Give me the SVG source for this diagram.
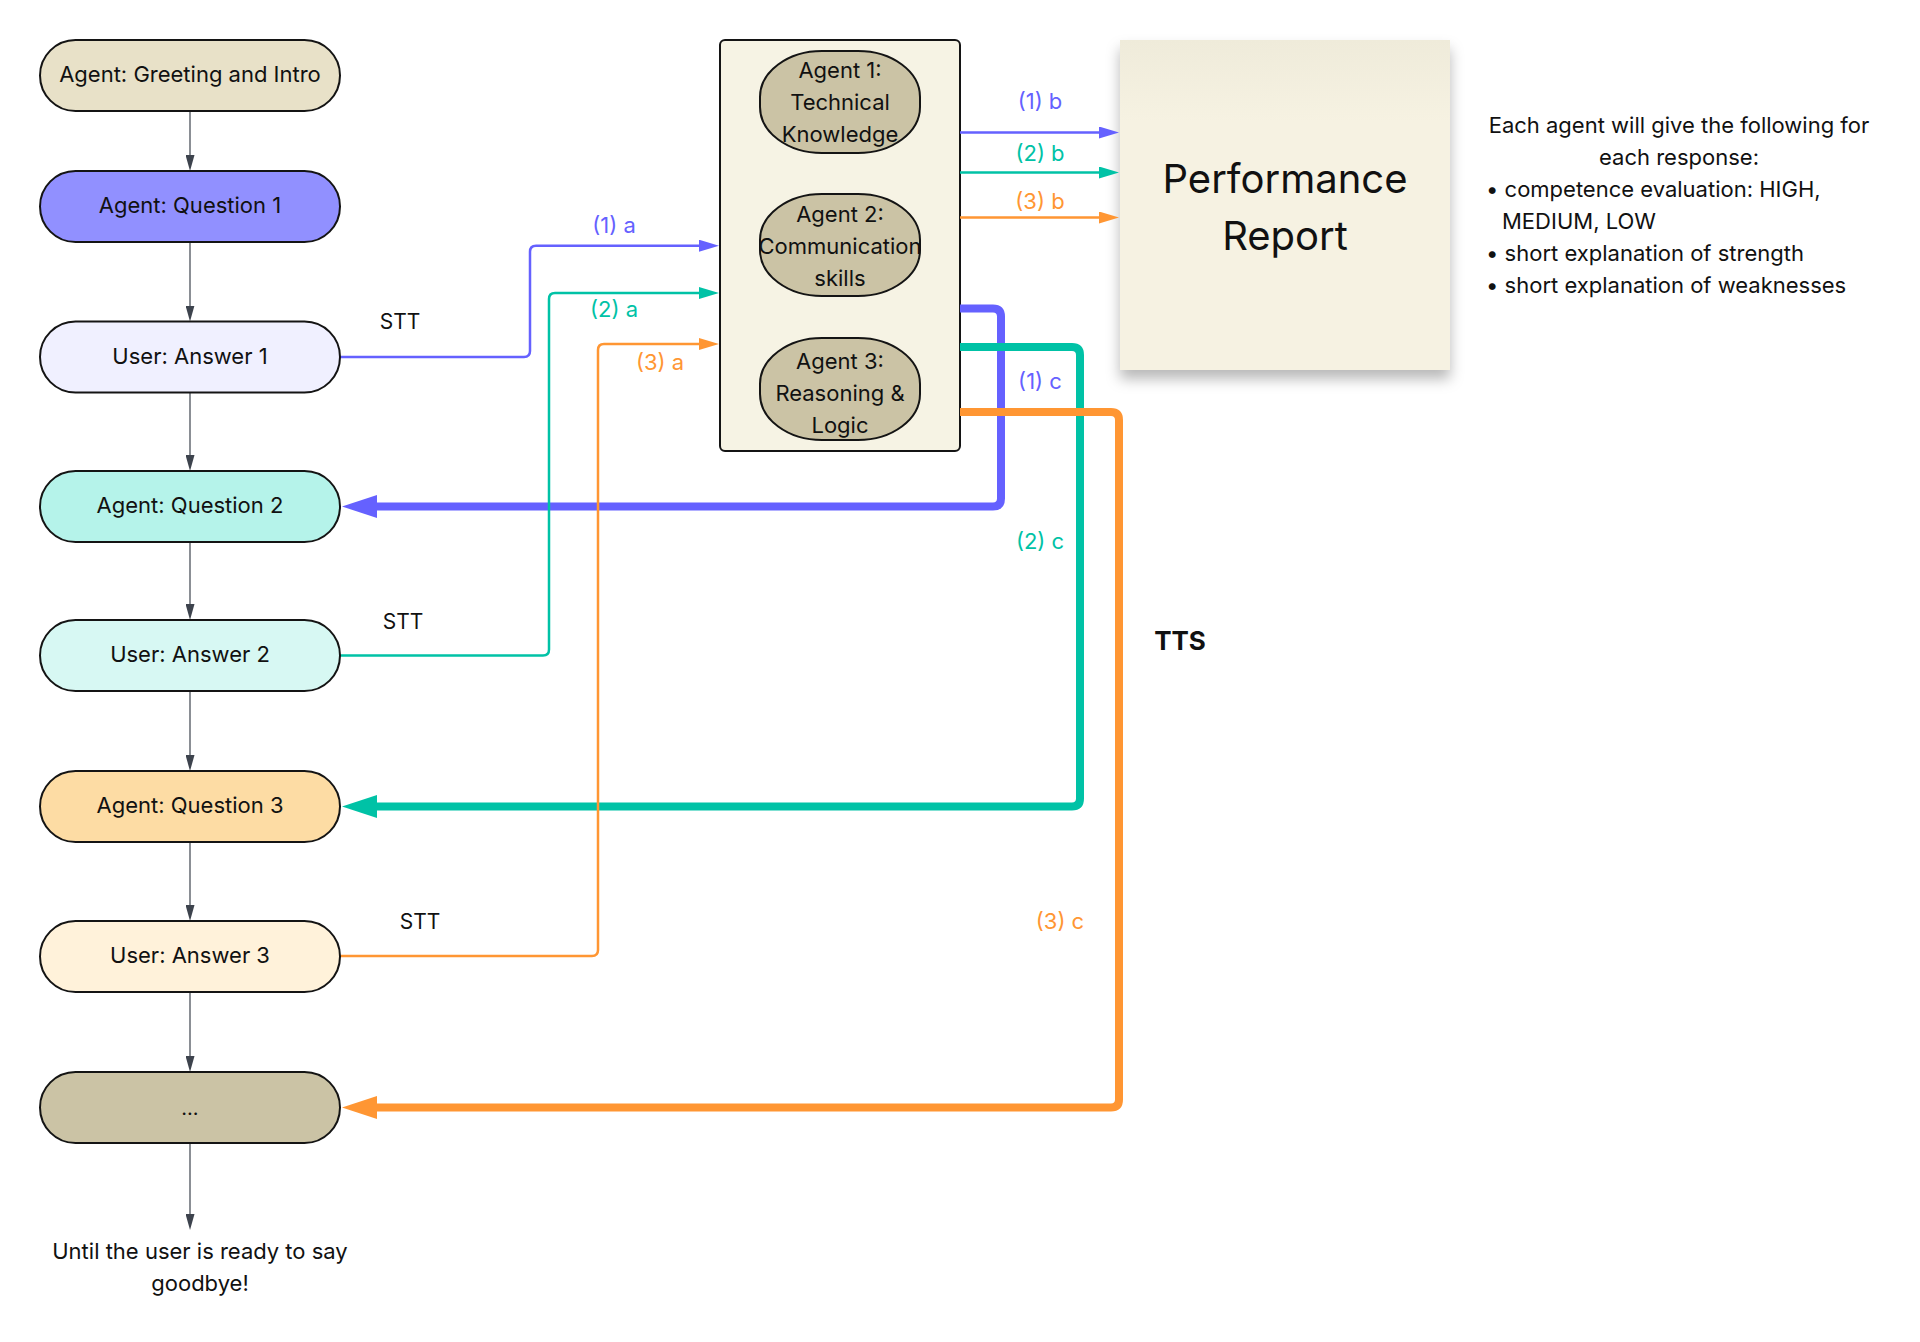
<svg xmlns="http://www.w3.org/2000/svg" width="1920" height="1342" viewBox="0 0 1920 1342">
<defs>
<style>
text{font-family:Inter,"Noto Sans","Liberation Sans",sans-serif;font-size:22px;fill:#111;}
.mid{text-anchor:middle;}
.node{stroke:#141414;stroke-width:2;}
.flow{stroke:#3d434d;stroke-width:1.2;fill:none;}
.thin{fill:none;stroke-width:2.5;stroke-linejoin:round;}
.thick{fill:none;stroke-width:8;stroke-linejoin:round;}
.pu{stroke:#6561ff;} .te{stroke:#00c2a6;} .or{stroke:#ff9633;}
.tpu{fill:#6561ff;} .tte{fill:#00c2a6;} .tor{fill:#ff9633;}
</style>
<marker id="ag" viewBox="0 0 16 9" markerWidth="16" markerHeight="9" refX="8" refY="4.5" orient="auto" markerUnits="userSpaceOnUse"><path d="M0,0 L16,4.5 L0,9 z" fill="#3d434d"/></marker>
<marker id="mpu" viewBox="0 0 20 12" markerWidth="20" markerHeight="12" refX="10" refY="6" orient="auto" markerUnits="userSpaceOnUse"><path d="M0,0 L20,6 L0,12 z" fill="#6561ff"/></marker>
<marker id="mte" viewBox="0 0 20 12" markerWidth="20" markerHeight="12" refX="10" refY="6" orient="auto" markerUnits="userSpaceOnUse"><path d="M0,0 L20,6 L0,12 z" fill="#00c2a6"/></marker>
<marker id="mor" viewBox="0 0 20 12" markerWidth="20" markerHeight="12" refX="10" refY="6" orient="auto" markerUnits="userSpaceOnUse"><path d="M0,0 L20,6 L0,12 z" fill="#ff9633"/></marker>
<marker id="Mpu" viewBox="0 0 35 23" markerWidth="35" markerHeight="23" refX="17" refY="11.5" orient="auto" markerUnits="userSpaceOnUse"><path d="M0,0 L35,11.5 L0,23 z" fill="#6561ff"/></marker>
<marker id="Mte" viewBox="0 0 35 23" markerWidth="35" markerHeight="23" refX="17" refY="11.5" orient="auto" markerUnits="userSpaceOnUse"><path d="M0,0 L35,11.5 L0,23 z" fill="#00c2a6"/></marker>
<marker id="Mor" viewBox="0 0 35 23" markerWidth="35" markerHeight="23" refX="17" refY="11.5" orient="auto" markerUnits="userSpaceOnUse"><path d="M0,0 L35,11.5 L0,23 z" fill="#ff9633"/></marker>
<linearGradient id="note" x1="0" y1="0" x2="0" y2="1"><stop offset="0" stop-color="#efebda"/><stop offset="0.25" stop-color="#f6f2e2"/><stop offset="1" stop-color="#f6f2e2"/></linearGradient>
<filter id="sh" x="-10%" y="-10%" width="120%" height="130%"><feDropShadow dx="0" dy="9" stdDeviation="7" flood-color="#000" flood-opacity="0.28"/></filter>
</defs>
<rect width="1920" height="1342" fill="#fff"/>

<g id="report"><rect x="1120" y="40" width="330" height="330" fill="url(#note)" filter="url(#sh)"/>
<text class="mid" x="1285" y="193" style="font-size:40px">Performance</text>
<text class="mid" x="1285" y="250" style="font-size:40px">Report</text></g>

<g id="agents-frame"><rect x="720" y="40" width="240" height="411" rx="5" fill="#f6f3e4" stroke="#141414" stroke-width="2"/></g>
<g id="agent1"><rect class="node" x="760" y="51" width="160" height="102" rx="62" ry="46" fill="#cbc3a5"/>
<text class="mid" x="840" y="78">Agent 1:</text><text class="mid" x="840" y="110">Technical</text><text class="mid" x="840" y="142">Knowledge</text></g>
<g id="agent2"><rect class="node" x="760" y="194" width="160" height="102" rx="62" ry="46" fill="#cbc3a5"/>
<text class="mid" x="840" y="221.5">Agent 2:</text><text class="mid" x="840" y="253.5">Communication</text><text class="mid" x="840" y="285.5">skills</text></g>
<g id="agent3"><rect class="node" x="760" y="338" width="160" height="102" rx="62" ry="46" fill="#cbc3a5"/>
<text class="mid" x="840" y="368.5">Agent 3:</text><text class="mid" x="840" y="400.5">Reasoning &amp;</text><text class="mid" x="840" y="432.5">Logic</text></g>

<g id="connectors">
<path class="flow" d="M190,111 V163" marker-end="url(#ag)"/>
<path class="flow" d="M190,242 V313.5" marker-end="url(#ag)"/>
<path class="flow" d="M190,392.5 V463" marker-end="url(#ag)"/>
<path class="flow" d="M190,542 V612" marker-end="url(#ag)"/>
<path class="flow" d="M190,691 V763" marker-end="url(#ag)"/>
<path class="flow" d="M190,842 V913" marker-end="url(#ag)"/>
<path class="flow" d="M190,992 V1064" marker-end="url(#ag)"/>
<path class="flow" d="M190,1143 V1222" marker-end="url(#ag)"/>

<path class="thick pu" d="M960,308.5 H993 Q1001,308.5 1001,316.5 V498.5 Q1001,506.5 993,506.5 H360" marker-end="url(#Mpu)"/>
<path class="thick te" d="M960,347 H1072 Q1080,347 1080,355 V798.5 Q1080,806.5 1072,806.5 H360" marker-end="url(#Mte)"/>
<path class="thick or" d="M960,412 H1111 Q1119,412 1119,420 V1099.5 Q1119,1107.5 1111,1107.5 H360" marker-end="url(#Mor)"/>

<path class="thin pu" d="M340,357 H524 Q530,357 530,351 V251.7 Q530,245.7 536,245.7 H709" marker-end="url(#mpu)"/>
<path class="thin te" d="M340,655.5 H543 Q549,655.5 549,649.5 V299 Q549,293 555,293 H709" marker-end="url(#mte)"/>
<path class="thin or" d="M340,956 H592 Q598,956 598,950 V350 Q598,344 604,344 H709" marker-end="url(#mor)"/>

<path class="thin pu" d="M960,132.5 H1109" marker-end="url(#mpu)"/>
<path class="thin te" d="M960,172.5 H1109" marker-end="url(#mte)"/>
<path class="thin or" d="M960,217.5 H1109" marker-end="url(#mor)"/>

<text class="mid tpu" x="614" y="232.5">(1) a</text>
<text class="mid tte" x="614" y="317">(2) a</text>
<text class="mid tor" x="660" y="370">(3) a</text>
<text class="mid tpu" x="1040" y="109">(1) b</text>
<text class="mid tte" x="1040" y="160.5">(2) b</text>
<text class="mid tor" x="1040" y="208.5">(3) b</text>
<text class="mid tpu" x="1040" y="388.5">(1) c</text>
<text class="mid tte" x="1040" y="548.5">(2) c</text>
<text class="mid tor" x="1060" y="928.5">(3) c</text>
<text class="mid" x="400" y="329" style="font-size:21px">STT</text>
<text class="mid" x="403" y="628.5" style="font-size:21px">STT</text>
<text class="mid" x="420" y="928.5" style="font-size:21px">STT</text>
<text class="mid" x="1180" y="650" style="font-weight:700;font-size:26px">TTS</text>
</g>

<g id="greeting"><rect class="node" x="40" y="40" width="300" height="71" rx="35.5" fill="#e8e1c8"/><text class="mid" x="190" y="82">Agent: Greeting and Intro</text></g>
<g id="q1"><rect class="node" x="40" y="171" width="300" height="71" rx="35.5" fill="#9190ff"/><text class="mid" x="190" y="213">Agent: Question 1</text></g>
<g id="a1"><rect class="node" x="40" y="321.5" width="300" height="71" rx="35.5" fill="#f0f0ff"/><text class="mid" x="190" y="363.5">User: Answer 1</text></g>
<g id="q2"><rect class="node" x="40" y="471" width="300" height="71" rx="35.5" fill="#b5f3ea"/><text class="mid" x="190" y="513">Agent: Question 2</text></g>
<g id="a2"><rect class="node" x="40" y="620" width="300" height="71" rx="35.5" fill="#d7f8f3"/><text class="mid" x="190" y="662">User: Answer 2</text></g>
<g id="q3"><rect class="node" x="40" y="771" width="300" height="71" rx="35.5" fill="#fddca4"/><text class="mid" x="190" y="813">Agent: Question 3</text></g>
<g id="a3"><rect class="node" x="40" y="921" width="300" height="71" rx="35.5" fill="#fff2da"/><text class="mid" x="190" y="963">User: Answer 3</text></g>
<g id="more"><rect class="node" x="40" y="1072" width="300" height="71" rx="35.5" fill="#cbc3a5"/><text class="mid" x="190" y="1114.5" style="font-size:20px">...</text></g>

<g id="end-note"><text class="mid" x="200" y="1258.5">Until the user is ready to say</text><text class="mid" x="200" y="1291">goodbye!</text></g>

<g id="criteria">
<text class="mid" x="1679" y="132.5">Each agent will give the following for</text>
<text class="mid" x="1679" y="165">each response:</text>
<text x="1486" y="197">• competence evaluation: HIGH,</text>
<text x="1502" y="229">MEDIUM, LOW</text>
<text x="1486" y="261">• short explanation of strength</text>
<text x="1486" y="293">• short explanation of weaknesses</text>
</g>
</svg>
